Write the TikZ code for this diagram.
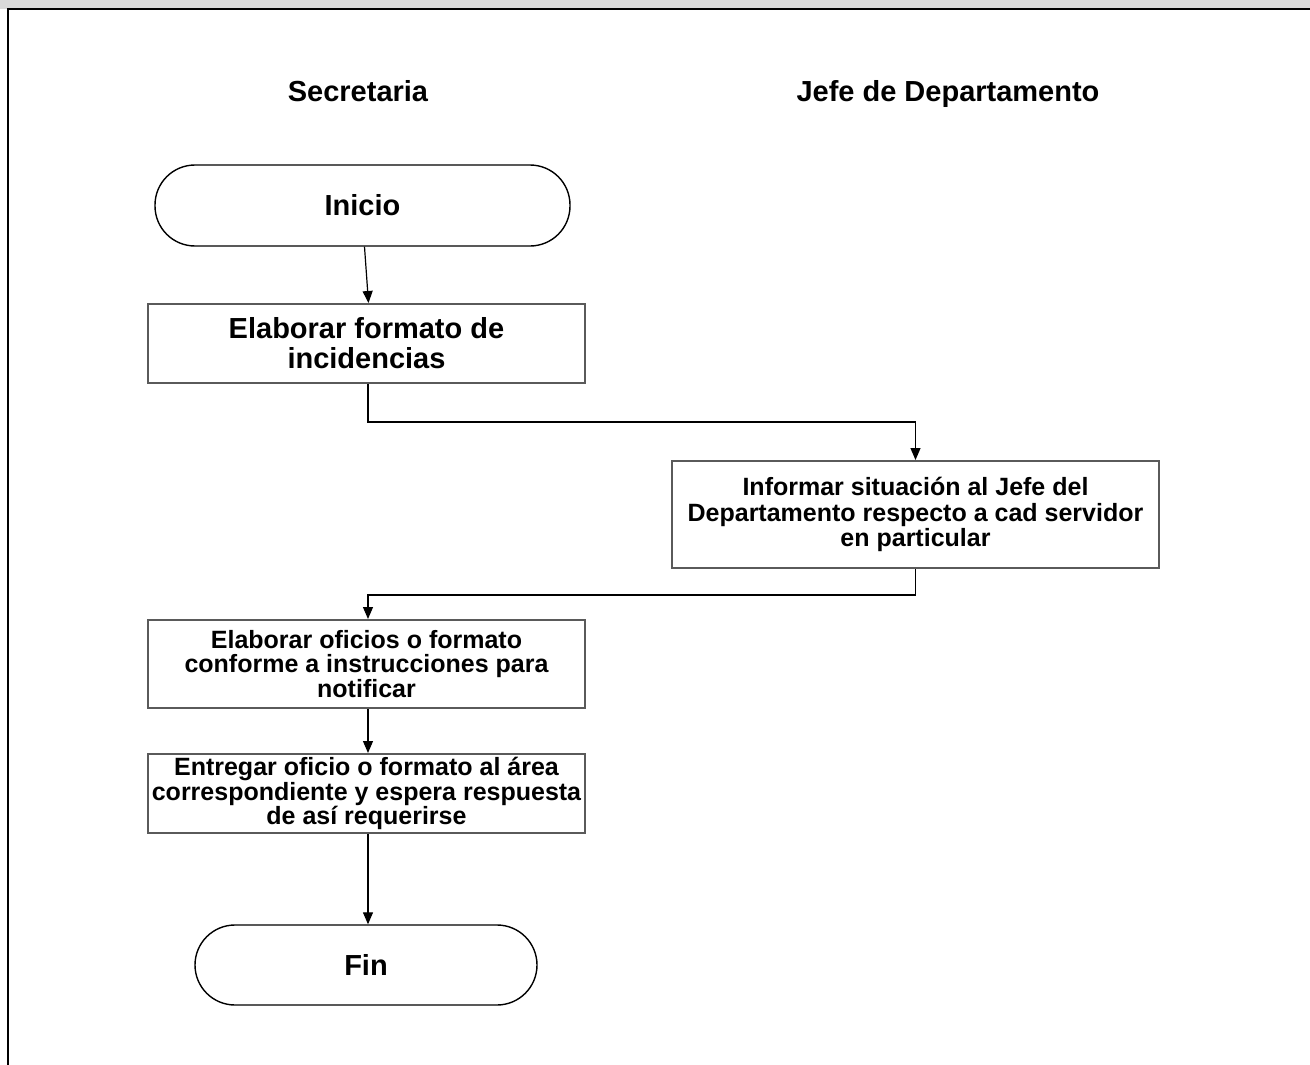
\documentclass[tikz,border=0pt]{standalone}
\usepackage{fontspec}
\setmainfont{Liberation Sans}
\usetikzlibrary{arrows.meta}
\definecolor{bandgray}{HTML}{D9D9D9}
\definecolor{boxgray}{HTML}{5A5A5A}
\begin{document}
\begin{tikzpicture}[x=1pt,y=-1pt,
  procbox/.style={draw=boxgray,line width=2pt,minimum width=437pt,align=center,inner sep=0pt,
    font=\fontsize{25}{24.5}\selectfont\bfseries},
  termbox/.style={draw=black,line width=1.4pt,rounded corners=40pt,minimum height=81pt,inner sep=0pt,
    font=\fontsize{29}{30}\selectfont\bfseries},
  header/.style={inner sep=0pt,anchor=base,font=\fontsize{29}{30}\selectfont\bfseries},
  conn/.style={line width=1.2pt,-{Triangle[width=10pt,length=12pt]}}]
\useasboundingbox (0,0) rectangle (1310,1065);
% frame
\fill[bandgray] (0,0) rectangle (1310,9);
\draw[line width=2pt] (7.5,1065) -- (7.5,9.5) -- (1310,9.5);
% headers
\node[header] (hsec) at (358,102) {Secretaria};
\node[header] (hjefe) at (948,102) {Jefe de Departamento};
% nodes
\node[termbox,minimum width=415pt] (inicio) at (362.5,205.5) {Inicio};
\node[procbox,minimum height=79pt,font=\fontsize{29}{30}\selectfont\bfseries] (b1) at (366.5,343.5) {Elaborar formato de\\incidencias};
\node[procbox,minimum width=487pt,minimum height=107pt,font=\fontsize{25}{25.5}\selectfont\bfseries] (b2) at (915.5,514.5) {Informar situación al Jefe del\\Departamento respecto a cad servidor\\en particular};
\node[procbox,minimum height=88pt] (b3) at (366.5,664) {Elaborar oficios o formato\\conforme a instrucciones para\\notificar};
\node[procbox,minimum height=79pt] (b4) at (366.5,793.5) {Entregar oficio o formato al área\\correspondiente y espera respuesta\\de así requerirse};
\node[termbox,minimum width=342pt,minimum height=80pt] (fin) at (366,965) {Fin};
% connectors
\draw[conn] ([xshift=2pt]inicio.south) -- ([xshift=2pt]b1.north);
\draw[conn] ([xshift=1.5pt]b1.south) -- ++(0,38) -| (b2.north);
\draw[conn] (b2.south) -- ++(0,26) -| ([xshift=1.5pt]b3.north);
\draw[conn] ([xshift=1.5pt]b3.south) -- ([xshift=1.5pt]b4.north);
\draw[conn] ([xshift=1.5pt]b4.south) -- ([xshift=2pt]fin.north);
\end{tikzpicture}
\end{document}
